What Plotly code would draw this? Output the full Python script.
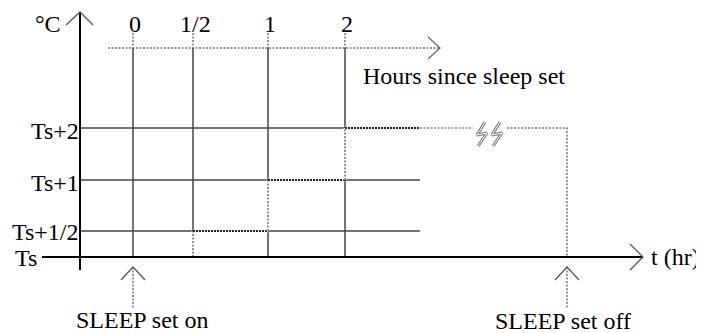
import plotly.graph_objects as go

# ---- data ----
hours = [0, 0.5, 1, 2]
hour_labels = ["0", "1/2", "1", "2"]
offsets = [0, 0.5, 1, 2]
offset_labels = ["Ts", "Ts+1/2", "Ts+1", "Ts+2"]
event_labels = ["SLEEP set on", "SLEEP set off"]
axis_labels = {"y": "°C", "x": "t (hr)", "top": "Hours since sleep set"}

# ---- schematic layout (diagram is not to scale) ----
W, H = 704, 333
PAGE_MARGIN = 8  # default body margin of the html page
HOUR_POS = [133, 193, 268, 345]
LEVEL_POS = [257, 231, 180, 128]
AXIS_X = 80
AXIS_TOP = 12
AXIS_BOTTOM = 270
BASE_LEFT = 42
BASE_RIGHT = 643
TOP_LINE_Y = 48
TOP_LINE_X0, TOP_LINE_X1 = 108, 440
GRID_END = 420
BREAK_X0, BREAK_X1 = 473, 507
OFF_X = 567
EVENT_HEAD_Y = 267
EVENT_TAIL_Y = 308

FONT = "Liberation Serif, Times New Roman, serif"
FS = 24


def X(h):
    return HOUR_POS[hours.index(h)]


def Y(o):
    return LEVEL_POS[offsets.index(o)]


fig = go.Figure()


def line(xs, ys, color="#444", width=1.5, dash="solid"):
    fig.add_trace(go.Scatter(x=xs, y=ys, mode="lines",
                             line=dict(color=color, width=width, dash=dash),
                             hoverinfo="skip", showlegend=False))


DOT = "2px,1.5px"

# top "hours since" dotted arrow
line([TOP_LINE_X0, TOP_LINE_X1], [TOP_LINE_Y, TOP_LINE_Y], color="#777", width=1.5, dash=DOT)
line([TOP_LINE_X1 - 12, TOP_LINE_X1, TOP_LINE_X1 - 12],
     [TOP_LINE_Y - 11, TOP_LINE_Y, TOP_LINE_Y + 11], color="#666", width=1.2)

# vertical hour grid lines + dotted ticks above
for h in hours:
    line([X(h), X(h)], [TOP_LINE_Y, Y(0)], color="#444", width=1.5)
    line([X(h), X(h)], [TOP_LINE_Y - 15, TOP_LINE_Y], color="#777", width=1.5, dash=DOT)

# horizontal level grid lines
for o in offsets[1:]:
    end = X(hours[-1]) if o == offsets[-1] else GRID_END
    line([AXIS_X, end], [Y(o), Y(o)], color="#444", width=1.5)

# step path (sleep setting): vertical risers lighter, horizontal treads darker
for i in range(1, len(hours)):
    x0 = X(hours[i])
    x1 = X(hours[i + 1]) if i + 1 < len(hours) else GRID_END
    line([x0, x0], [Y(offsets[i - 1]), Y(offsets[i])], color="white", width=3)
    line([x0, x0], [Y(offsets[i - 1]), Y(offsets[i])], color="#777", width=1.6, dash=DOT)
    line([x0, x1], [Y(offsets[i]), Y(offsets[i])], color="white", width=3)
    line([x0, x1], [Y(offsets[i]), Y(offsets[i])], color="#222", width=2, dash="2px,1px")

# continuation to SLEEP off (lighter dotted) with break
top = Y(offsets[-1])
line([GRID_END, BREAK_X0], [top, top], color="#888", width=1.5, dash=DOT)
line([BREAK_X1, OFF_X, OFF_X], [top, top, Y(0)], color="#777", width=1.5, dash=DOT)
# break symbol (two outlined zig-zags)
for dx in (0, 15):
    zx = [485 + dx, 477 + dx, 487 + dx, 478 + dx]
    zy = [122, 135, 133, 146]
    line(zx, zy, color="#777", width=3)
    line(zx, zy, color="white", width=1)

# main axes
line([AXIS_X, AXIS_X], [AXIS_TOP, AXIS_BOTTOM], color="black", width=2)
line([AXIS_X - 14, AXIS_X, AXIS_X + 13], [AXIS_TOP + 13, AXIS_TOP, AXIS_TOP + 13], color="#555", width=1.3)
line([BASE_LEFT, BASE_RIGHT], [Y(0), Y(0)], color="black", width=2)
line([BASE_RIGHT - 13, BASE_RIGHT, BASE_RIGHT - 13], [Y(0) - 13, Y(0), Y(0) + 13], color="#555", width=1.3)

# event arrows
for ex in (X(hours[0]), OFF_X):
    line([ex, ex], [EVENT_HEAD_Y, EVENT_TAIL_Y], color="#777", width=1.5, dash=DOT)
    line([ex - 12, ex, ex + 12], [EVENT_HEAD_Y + 13, EVENT_HEAD_Y, EVENT_HEAD_Y + 13], color="#555", width=1.3)

# ---- text ----
ann = []


def text(x, y, s, xanchor="center", yanchor="middle"):
    ann.append(dict(x=x, y=y, xref="x", yref="y", text=s, showarrow=False,
                    xanchor=xanchor, yanchor=yanchor,
                    font=dict(family=FONT, size=FS, color="black")))


text(AXIS_X - 17, 24, axis_labels["y"], xanchor="right")
for h, lab in zip(hours, hour_labels):
    text(X(h) + 2, 24, lab)
text(361, 76, axis_labels["top"], xanchor="left")
for o, lab in zip(offsets, offset_labels):
    if o == 0:
        text(BASE_LEFT - 3, Y(o) + 1, lab, xanchor="right")
    elif o == offsets[1]:
        text(AXIS_X + 1, Y(o) + 1, lab, xanchor="right")
    else:
        text(AXIS_X + 1, Y(o) + 3, lab, xanchor="right")
text(BASE_RIGHT + 6, Y(0), axis_labels["x"], xanchor="left")
text(X(hours[0]) + 9, 320, event_labels[0])
text(OFF_X - 4, 321, event_labels[1])

fig.update_layout(
    width=W - PAGE_MARGIN, height=H - PAGE_MARGIN,
    margin=dict(l=0, r=0, t=0, b=0),
    paper_bgcolor="white", plot_bgcolor="white",
    xaxis=dict(range=[PAGE_MARGIN, W], visible=False, fixedrange=True),
    yaxis=dict(range=[H, PAGE_MARGIN], visible=False, fixedrange=True),
    annotations=ann,
    showlegend=False,
)

fig.write_html("out.html")
